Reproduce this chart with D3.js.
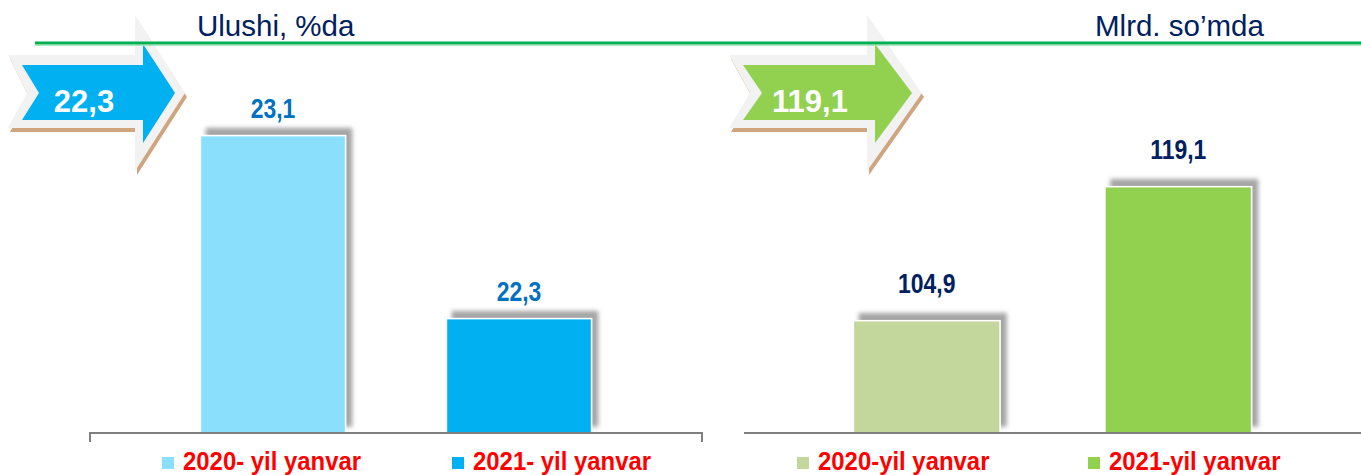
<!DOCTYPE html>
<html><head><meta charset="utf-8">
<script src="https://cdn.jsdelivr.net/npm/d3@7"></script>
<style>
html,body{margin:0;padding:0;background:#fff;}
svg{display:block;}
.narrow{font-family:'Liberation Sans',Arial,sans-serif;font-weight:bold;}
</style></head>
<body>
<svg id="c" width="1361" height="475"></svg>
<script>
// ---- data ----
const leftCategories = ["2020- yil yanvar", "2021- yil yanvar"];
const leftValues = [23.1, 22.3];
const leftLabels = ["23,1", "22,3"];
const leftTitle = "Ulushi, %da";
const leftArrowLabel = "22,3";

const rightCategories = ["2020-yil yanvar", "2021-yil yanvar"];
const rightValues = [104.9, 119.1];
const rightLabels = ["104,9", "119,1"];
const rightTitle = "Mlrd. so\u2019mda";
const rightArrowLabel = "119,1";

const leftColors = ["#8ADFFD", "#00B0F0"];
const rightColors = ["#C3D69B", "#92D050"];

const svg = d3.select("#c");
const defs = svg.append("defs");
const f = defs.append("filter").attr("id","sh").attr("x","-20%").attr("y","-20%").attr("width","140%").attr("height","140%");
f.append("feDropShadow").attr("dx",6).attr("dy",-7).attr("stdDeviation",2.2)
  .attr("flood-color","#7f7f7f").attr("flood-opacity",0.7);

const baseY = 433;

// condensed bold text (narrow face emulated by horizontal scaling)
function narrowText(sel, x, y, size, sx, anchor){
  return sel.append("text").attr("class","narrow")
    .attr("transform",`translate(${x},${y}) scale(${sx},1)`)
    .attr("text-anchor",anchor).attr("font-size",size);
}

function panel(cfg){
  const x = d3.scaleBand().domain(cfg.cats).range([cfg.x0, cfg.x1])
      .paddingInner(cfg.pi).paddingOuter(cfg.po);
  const y = d3.scaleLinear().domain(cfg.domain).range([baseY, cfg.yTop]);
  const g = svg.append("g");
  g.selectAll("rect.bar").data(cfg.vals).enter().append("rect")
    .attr("class","bar")
    .attr("x",(d,i)=>x(cfg.cats[i]))
    .attr("width",x.bandwidth())
    .attr("y",d=>y(d))
    .attr("height",d=>baseY - y(d))
    .attr("fill",(d,i)=>cfg.colors[i])
    .attr("stroke","#fff").attr("stroke-width",1.5)
    .attr("filter","url(#sh)");
  cfg.vals.forEach((d,i)=>{
    narrowText(g, x(cfg.cats[i]) + x.bandwidth()/2, y(d) - cfg.labelOff, 27, 0.85, "middle")
      .attr("fill",cfg.labelColor).text(cfg.labels[i]);
  });
  // axis line
  let p = `M${cfg.x1},${baseY} H${cfg.x0}`;
  if (cfg.tickL) p = `M${cfg.x0},${baseY+9} V${baseY} H${cfg.x1}`;
  if (cfg.tickR) p += ` V${baseY+9}`;
  g.append("path").attr("d",p).attr("fill","none").attr("stroke","#808080").attr("stroke-width",2);
  // legend
  cfg.cats.forEach((c,i)=>{
    g.append("rect").attr("x",cfg.legX[i]).attr("y",457).attr("width",12).attr("height",12)
      .attr("fill",cfg.colors[i]);
    narrowText(g, cfg.legX[i]+21, 470, 26, 0.92, "start").attr("fill","#FF0000").text(c);
  });
  // title
  svg.append("text").attr("x",cfg.titleX).attr("y",36)
    .attr("font-family","'Liberation Sans',Arial,sans-serif").attr("font-size",29.5)
    .attr("fill","#002060").text(cfg.title);
}

panel({cats:leftCategories, vals:leftValues, labels:leftLabels, colors:leftColors,
  x0:90, x1:702, pi:0.41, po:0.449, domain:[21.8, 23.4], yTop:433-1.6*228.75,
  labelOff:18, labelColor:"#0070C0", tickL:true, tickR:true, legX:[162,452],
  title:leftTitle, titleX:197});
panel({cats:rightCategories, vals:rightValues, labels:rightLabels, colors:rightColors,
  x0:744, x1:1361, pi:0.417, po:0.435, domain:[93, 125], yTop:433-32*9.437,
  labelOff:28, labelColor:"#002060", tickL:false, tickR:false, legX:[797,1088],
  title:rightTitle, titleX:1095});

// arrows
function arrow(a){
  const outer = [[a.x0-14,55],[a.xh-8,55],[a.xh-8,15],[a.xt+10,93],[a.xh-8,171],[a.xh-8,128],[a.x0-14,128],[a.xn-12,93]];
  const inner = [[a.x0,65],[a.xh,65],[a.xh,44],[a.xt,93],[a.xh,143],[a.xh,120],[a.x0,120],[a.xn,93]];
  const line = d3.line();
  const sh = outer.map(p=>[p[0]+2,p[1]+4]);
  svg.append("path").attr("d",line(sh)+"Z").attr("fill","#CFA57F");
  svg.append("path").attr("d",line(outer)+"Z").attr("fill","#F2F2F2");
  svg.append("path").attr("d",line(inner)+"Z").attr("fill",a.color);
  svg.append("text").attr("x",a.tx).attr("y",112).attr("text-anchor","middle")
    .attr("font-family","'Liberation Sans',Arial,sans-serif").attr("font-weight","bold")
    .attr("font-size",31).attr("fill","#fff").text(a.label);
}
arrow({x0:22, xn:39, xh:143, xt:175, color:"#00B0F0", label:leftArrowLabel, tx:84});
arrow({x0:743, xn:762, xh:875, xt:912, color:"#92D050", label:rightArrowLabel, tx:810});

// top green rule
svg.append("line").attr("x1",35).attr("x2",1361).attr("y1",45.5).attr("y2",45.5)
  .attr("stroke","#A8E6BC").attr("stroke-width",1);
svg.append("line").attr("x1",35).attr("x2",1361).attr("y1",43).attr("y2",43)
  .attr("stroke","#00B050").attr("stroke-width",3);
</script>
</body></html>
